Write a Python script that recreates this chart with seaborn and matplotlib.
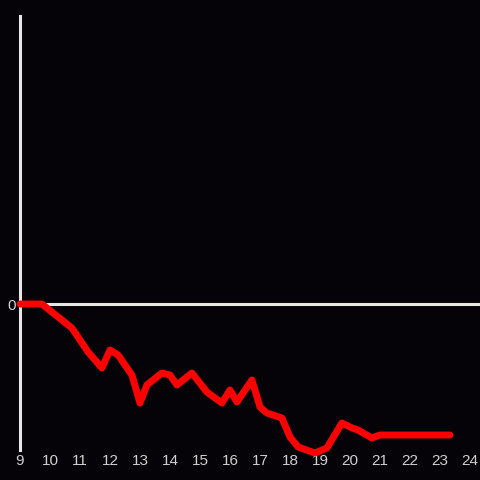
import pandas as pd
import matplotlib
matplotlib.use("Agg")
import matplotlib.pyplot as plt
import seaborn as sns

hours = [9.0, 9.73, 10.73, 11.27, 11.73, 12.0, 12.27, 12.73, 13.0, 13.23,
         13.73, 14.0, 14.23, 14.73, 15.23, 15.73, 16.0, 16.23, 16.73, 17.0,
         17.23, 17.73, 18.0, 18.27, 18.83, 19.23, 19.73, 20.07, 20.27, 20.73,
         21.0, 23.33]
values = [0.0, 0.0, -2.4, -4.8, -6.4, -4.6, -5.1, -7.1, -9.9, -8.1,
          -6.9, -7.1, -8.1, -6.9, -8.8, -9.9, -8.6, -9.8, -7.6, -10.3,
          -10.9, -11.4, -13.3, -14.3, -14.9, -14.4, -11.9, -12.4, -12.6, -13.4,
          -13.1, -13.1]
xticks = list(range(9, 25))

df = pd.DataFrame({"hour": hours, "value": values})

sns.set_theme(style="dark")
bg = "#050307"
plt.rcParams["font.family"] = ["Liberation Sans", "DejaVu Sans"]

fig = plt.figure(figsize=(4.8, 4.8), dpi=100, facecolor=bg)
ax = fig.add_axes([20 / 480, 30 / 480, 460 / 480, 434 / 480], facecolor=bg)

ax.axhline(0, color="#e6e6e6", lw=2.2, zorder=1)
sns.lineplot(data=df, x="hour", y="value", color="#ff0000", lw=5,
             ax=ax, zorder=3, clip_on=False)

ax.set_xlim(9, 24.333)
ax.set_ylim(-14.6, 28.8)
ax.set_xticks(xticks)
ax.set_xticklabels([str(t) for t in xticks])
ax.set_yticks([0])
ax.set_yticklabels(["0"])
ax.tick_params(colors="#d0d0d0", labelsize=11, length=0, pad=3)
ax.set_xlabel("")
ax.set_ylabel("")
ax.grid(False)
for s in ["top", "right", "bottom"]:
    ax.spines[s].set_visible(False)
ax.spines["left"].set_color("#e6e6e6")
ax.spines["left"].set_linewidth(2.2)
ax.spines["left"].set_zorder(2)

fig.savefig("out.png", dpi=100, facecolor=bg)
